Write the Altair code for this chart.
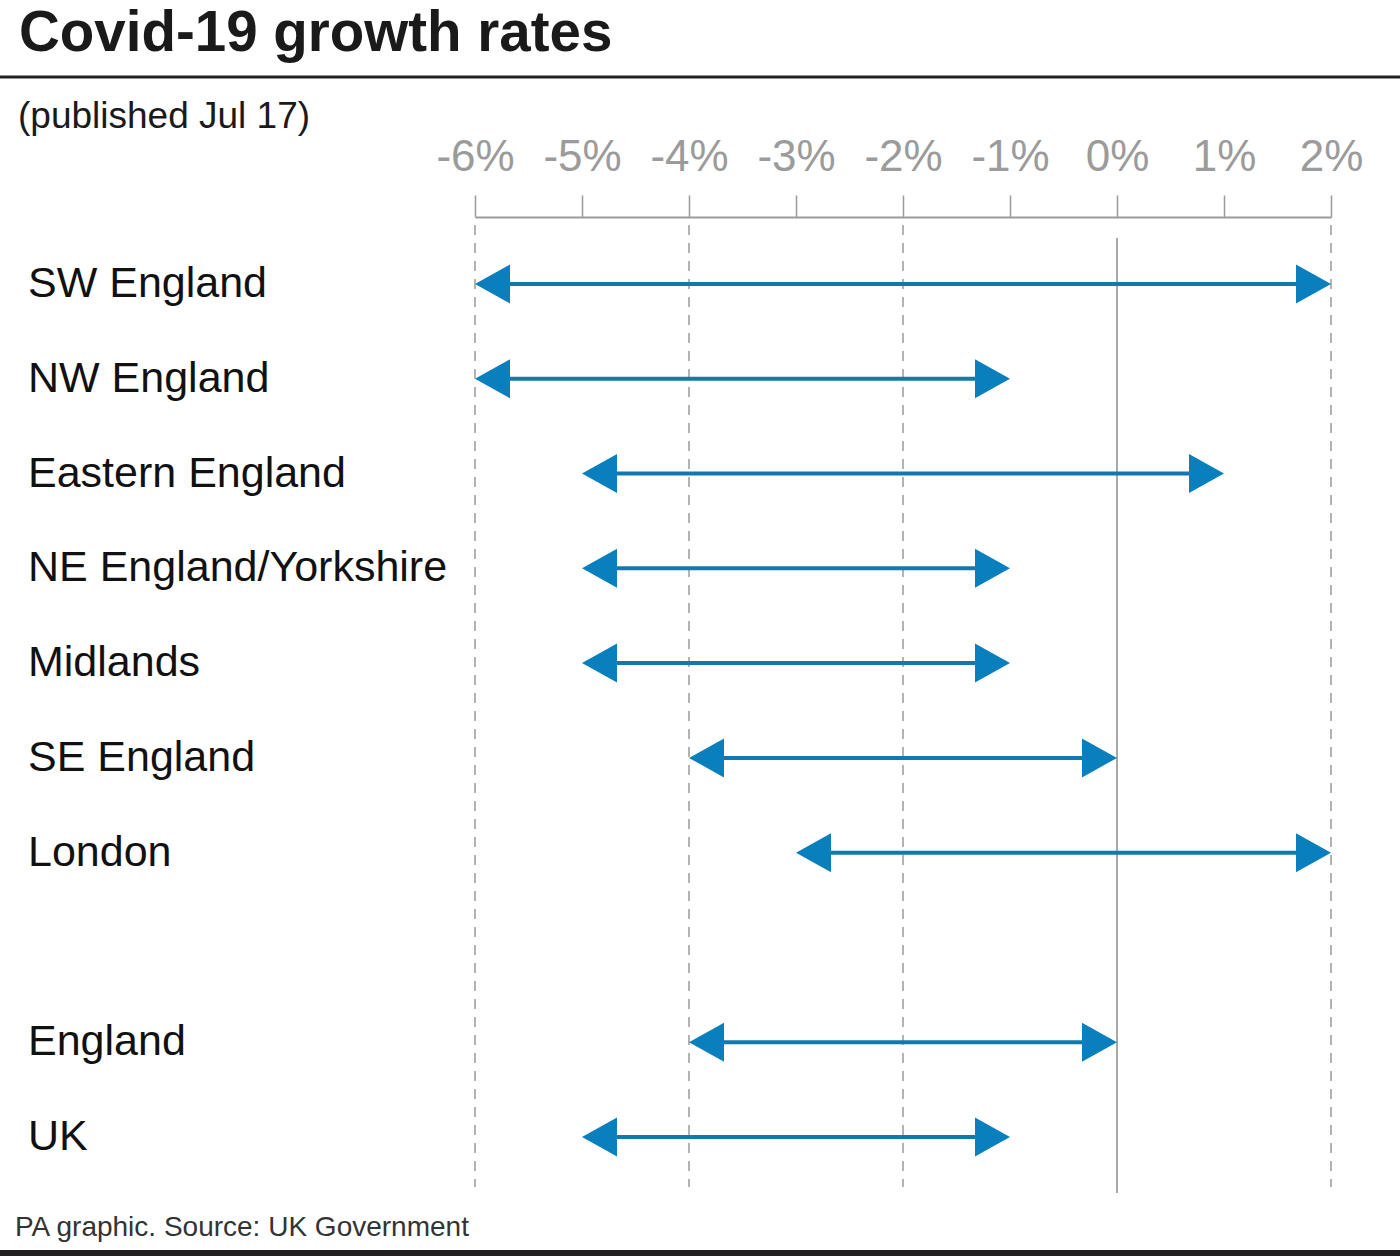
import altair as alt
import pandas as pd

# ---- data ----
regions = ["SW England", "NW England", "Eastern England", "NE England/Yorkshire",
           "Midlands", "SE England", "London", "England", "UK"]
row_pos = [0, 1, 2, 3, 4, 5, 6, 8, 9]
low = [-6, -6, -5, -5, -5, -4, -3, -4, -5]
high = [2, -1, 1, -1, -1, 0, 2, 0, -1]
tick_values = [-6, -5, -4, -3, -2, -1, 0, 1, 2]
dashed_grid = [-6, -4, -2, 2]
solid_grid = [0]

title_text = "Covid-19 growth rates"
subtitle_text = "(published Jul 17)"
footer_text = "PA graphic. Source: UK Government"

FONT = "Liberation Sans"
BLUE = "#0a7fbd"
LINE_BLUE = "#1279ad"
GRAY = "#9b9b9b"

df = pd.DataFrame({"region": regions, "row": row_pos, "low": low, "high": high})
grid_d = pd.DataFrame({"g": dashed_grid})
grid_s = pd.DataFrame({"g": solid_grid})
one = pd.DataFrame({"a": [0]})

W, H = 856, 976
x_scale = alt.Scale(domain=[-6, 2], nice=False, zero=False)
y_scale = alt.Scale(domain=[-0.707, 9.591], reverse=True, nice=False, zero=False)

x_axis = alt.Axis(orient="top", values=tick_values, labelExpr="datum.value + '%'",
                  title=None, grid=False, domainColor=GRAY, domainWidth=2,
                  tickColor=GRAY, tickWidth=1.5, tickSize=22, labelFontSize=44,
                  labelColor=GRAY, labelFont=FONT, labelPadding=16,
                  labelFlush=False, labelOverlap=False)


def X(field):
    return alt.X(field, scale=x_scale, axis=x_axis, title=None)


def Y(field):
    return alt.Y(field, scale=y_scale, axis=None, title=None)


grid_dashed = alt.Chart(grid_d).mark_rule(color=GRAY, strokeWidth=1.5, strokeDash=[10, 8]).encode(
    x=X("g:Q"), y=alt.value(8), y2=alt.value(970))

grid_solid = alt.Chart(grid_s).mark_rule(color="#a8a8a8", strokeWidth=2).encode(
    x=X("g:Q"), y=alt.value(21), y2=alt.value(976))

lines = alt.Chart(df).transform_calculate(
    lo_in="datum.low + 0.15", hi_in="datum.high - 0.15"
).mark_rule(strokeWidth=4, color=LINE_BLUE).encode(
    x=X("lo_in:Q"), x2="hi_in:Q", y=Y("row:Q"))

left_arrow = alt.Chart(df).mark_point(shape="M0,0L2,-1.114L2,1.114Z", filled=True,
                                      size=1225, opacity=1, color=BLUE, strokeWidth=0).encode(
    x=X("low:Q"), y=Y("row:Q"))

right_arrow = alt.Chart(df).mark_point(shape="M0,0L-2,-1.114L-2,1.114Z", filled=True,
                                       size=1225, opacity=1, color=BLUE, strokeWidth=0).encode(
    x=X("high:Q"), y=Y("row:Q"))

labels = alt.Chart(df).mark_text(align="left", baseline="middle", fontSize=43,
                                 font=FONT, color="#111111").encode(
    x=alt.value(-447), y=Y("row:Q"), text="region:N")

title = alt.Chart(pd.DataFrame({"t": [title_text]})).mark_text(
    align="left", baseline="alphabetic", fontSize=56.5, fontWeight="bold",
    font=FONT, color="#1a1a1a").encode(x=alt.value(-456), y=alt.value(-166), text="t:N")

subtitle = alt.Chart(pd.DataFrame({"t": [subtitle_text]})).mark_text(
    align="left", baseline="middle", fontSize=37, font=FONT, color="#1a1a1a").encode(
    x=alt.value(-457), y=alt.value(-100), text="t:N")

footer = alt.Chart(pd.DataFrame({"t": [footer_text]})).mark_text(
    align="left", baseline="middle", fontSize=28, font=FONT, color="#333333").encode(
    x=alt.value(-460), y=alt.value(1011), text="t:N")

top_rule = alt.Chart(one).mark_rule(color="#222222", strokeWidth=3).encode(
    x=alt.value(-475), x2=alt.value(925), y=alt.value(-140))

bottom_rule = alt.Chart(one).mark_rule(color="#231f20", strokeWidth=6).encode(
    x=alt.value(-475), x2=alt.value(925), y=alt.value(1036))

chart = alt.layer(
    grid_dashed, grid_solid, lines, left_arrow, right_arrow, labels,
    title, subtitle, footer, top_rule, bottom_rule
).properties(
    width=W, height=H,
    padding={"left": 475, "top": 217, "right": 69, "bottom": 63},
    autosize=alt.AutoSizeParams(type="none"),
    background="white"
).configure_view(stroke=None)

chart.save("out.html", embed_options={"renderer": "svg", "actions": False})
